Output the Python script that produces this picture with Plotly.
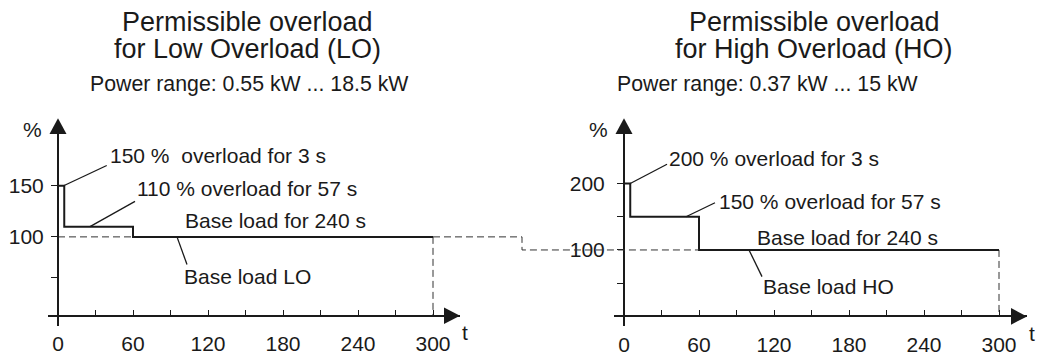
import plotly.graph_objects as go

W, H = 1038, 356
FONT = "Liberation Sans, Arial, Helvetica, sans-serif"
INK = "#1a1a1a"
DASHC = "#333333"

# ---------------- data ----------------
lo_time = [0, 5, 5, 60, 60, 300]
lo_pct = [150, 150, 110, 110, 100, 100]
ho_time = [0, 5, 5, 60, 60, 300]
ho_pct = [200, 200, 150, 150, 100, 100]
base_pct = 100
cycle_end = 300

x_tickvals = [0, 30, 60, 90, 120, 150, 180, 210, 240, 270, 300]
x_ticktext = ["0", "", "60", "", "120", "", "180", "", "240", "", "300"]
lo_tickvals = [60, 100, 150]
lo_ticktext = ["", "100", "150"]
ho_tickvals = [50, 100, 150, 200]
ho_ticktext = ["", "100", "", "200"]

lo_title = ["Permissible overload", "for Low Overload (LO)", "Power range: 0.55 kW ... 18.5 kW"]
ho_title = ["Permissible overload", "for High Overload (HO)", "Power range: 0.37 kW ... 15 kW"]

# callouts: (text, text_t, text_pct, leader from (t, pct), leader to (t, pct))
lo_callouts = [
    ("150 %  overload for 3 s", 40, 179.6, (4.5, 150), (39, 169.8)),
    ("110 % overload for 57 s", 61.6, 147, (25.6, 110), (61.6, 134.7)),
    ("Base load for 240 s", 100, 115.8, None, None),
    ("Base load LO", 99.2, 61, (95.2, 100), (103.2, 73)),
]
ho_callouts = [
    ("200 % overload for 3 s", 34.4, 237.8, (5, 200), (34.4, 229)),
    ("150 % overload for 57 s", 74.4, 173.1, (49.6, 150), (72.8, 171)),
    ("Base load for 240 s", 104.8, 118.7, None, None),
    ("Base load HO", 109.6, 44.9, (100, 100), (110.4, 59.9)),
]

# ---------------- layout geometry (pixels) ----------------
panels = {
    "lo": dict(xa="x", ya="y", xdom=(48, 460), ydom=(333, 130), xr=(-8, 321.6), yr=(13.3, 207.4), cross=22.9,
               ystand=3),
    "ho": dict(xa="x2", ya="y2", xdom=(614, 1027), ydom=(333, 130), xr=(-8, 322.4), yr=(-13.7, 284.9), cross=0,
               ystand=8),
}


def fx(px):
    return px / W


def fy(py):
    return 1 - py / H


def tpx(p, t):
    d, r = p["xdom"], p["xr"]
    return d[0] + (t - r[0]) / (r[1] - r[0]) * (d[1] - d[0])


def vpy(p, v):
    d, r = p["ydom"], p["yr"]
    return d[0] - (v - r[0]) / (r[1] - r[0]) * (d[0] - d[1])


fig = go.Figure()

# dashed references
for key in ["lo", "ho"]:
    p = panels[key]
    fig.add_trace(go.Scatter(x=[cycle_end, cycle_end], y=[base_pct, p["cross"]], mode="lines",
                             line=dict(color=DASHC, width=1, dash="7px,4px"),
                             xaxis=p["xa"], yaxis=p["ya"], hoverinfo="skip", showlegend=False))
fig.add_trace(go.Scatter(x=[0, 60], y=[base_pct, base_pct], mode="lines",
                         line=dict(color=DASHC, width=1, dash="7px,4px"),
                         xaxis="x", yaxis="y", hoverinfo="skip", showlegend=False))

# step curves
for key, tt, vv in [("lo", lo_time, lo_pct), ("ho", ho_time, ho_pct)]:
    p = panels[key]
    fig.add_trace(go.Scatter(x=tt, y=vv, mode="lines", line=dict(color=INK, width=2),
                             xaxis=p["xa"], yaxis=p["ya"], hoverinfo="skip", showlegend=False))

annotations = []
shapes = []

# callouts
for key, callouts in [("lo", lo_callouts), ("ho", ho_callouts)]:
    p = panels[key]
    for text, tx, ty, a, b in callouts:
        annotations.append(dict(text=text, x=tx, y=ty, xref=p["xa"], yref=p["ya"], xanchor="left",
                                yanchor="middle", showarrow=False,
                                font=dict(family=FONT, size=21, color=INK)))
        if a is not None:
            fig.add_trace(go.Scatter(x=[a[0], b[0]], y=[a[1], b[1]], mode="lines",
                                     line=dict(color=INK, width=1.3), xaxis=p["xa"], yaxis=p["ya"],
                                     hoverinfo="skip", showlegend=False))

# connector dashed line between panels
lo, ho = panels["lo"], panels["ho"]
gap_x = 522
path = "M {a},{b} L {c},{b} L {c},{d} L {e},{d}".format(
    a=fx(tpx(lo, cycle_end)), b=fy(vpy(lo, base_pct)), c=fx(gap_x), d=fy(vpy(ho, base_pct)),
    e=fx(tpx(ho, 60)))
shapes.append(dict(type="path", path=path, xref="paper", yref="paper",
                   line=dict(color=DASHC, width=1, dash="7px,4px")))

# arrow heads + axis labels
for key in ["lo", "ho"]:
    p = panels[key]
    ax_py = vpy(p, p["cross"])
    tip = p["xdom"][1]
    shapes.append(dict(type="path", xref="paper", yref="paper", fillcolor=INK, line=dict(width=0),
                       path="M {},{} L {},{} L {},{} Z".format(fx(tip - 16), fy(ax_py - 8.5), fx(tip), fy(ax_py),
                                                               fx(tip - 16), fy(ax_py + 8.5))))
    y_px = tpx(p, 0)
    shapes.append(dict(type="path", xref="paper", yref="paper", fillcolor=INK, line=dict(width=0),
                       path="M {},{} L {},{} L {},{} Z".format(fx(y_px - 8.5), fy(137), fx(y_px), fy(121),
                                                               fx(y_px + 8.5), fy(137))))
    annotations.append(dict(text="t", x=fx(tip + 5), y=fy(ax_py + 17), xref="paper", yref="paper",
                            xanchor="center", yanchor="middle", showarrow=False,
                            font=dict(family=FONT, size=21, color=INK)))
    annotations.append(dict(text="%", x=fx(y_px - 26), y=fy(132), xref="paper", yref="paper",
                            xanchor="center", yanchor="middle", showarrow=False,
                            font=dict(family=FONT, size=21, color=INK)))

# titles
for cx, cx2, lines in [(247, 249, lo_title), (814, 768, ho_title)]:
    annotations.append(dict(text=lines[0], x=fx(cx), y=fy(22), xref="paper", yref="paper", xanchor="center",
                            yanchor="middle", showarrow=False, font=dict(family=FONT, size=27, color=INK)))
    annotations.append(dict(text=lines[1], x=fx(cx), y=fy(50), xref="paper", yref="paper", xanchor="center",
                            yanchor="middle", showarrow=False, font=dict(family=FONT, size=27, color=INK)))
    annotations.append(dict(text=lines[2], x=fx(cx2), y=fy(86), xref="paper", yref="paper", xanchor="center",
                            yanchor="middle", showarrow=False, font=dict(family=FONT, size=21.3, color=INK)))


def xaxis_cfg(p):
    return dict(domain=[fx(p["xdom"][0]), fx(p["xdom"][1])], range=list(p["xr"]), anchor="free",
                position=fy(vpy(p, p["cross"])), showline=True, linecolor=INK, linewidth=2,
                ticks="inside", ticklen=5, tickwidth=1, tickcolor=INK, tickvals=x_tickvals,
                ticktext=x_ticktext, showgrid=False, zeroline=False, ticklabelstandoff=9,
                tickfont=dict(family=FONT, size=21, color=INK), fixedrange=True)


def yaxis_cfg(p, tv, tt):
    return dict(domain=[fy(p["ydom"][0]), fy(p["ydom"][1])], range=list(p["yr"]), anchor="free",
                position=fx(tpx(p, 0)), side="left", showline=True, linecolor=INK, linewidth=2,
                ticks="outside", ticklen=6, tickwidth=1, tickcolor=INK, tickvals=tv, ticktext=tt,
                ticklabelstandoff=p["ystand"],
                showgrid=False, zeroline=False, tickfont=dict(family=FONT, size=21, color=INK),
                fixedrange=True)


fig.update_layout(
    width=W, height=H,
    margin=dict(l=0, r=0, t=0, b=0),
    paper_bgcolor="white", plot_bgcolor="rgba(0,0,0,0)",
    showlegend=False,
    xaxis=xaxis_cfg(lo), yaxis=yaxis_cfg(lo, lo_tickvals, lo_ticktext),
    xaxis2=xaxis_cfg(ho), yaxis2=yaxis_cfg(ho, ho_tickvals, ho_ticktext),
    annotations=annotations, shapes=shapes,
)

fig.write_html("out.html", config=dict(displayModeBar=False),
               post_script="document.body.style.margin='0';document.body.style.overflow='hidden';")
